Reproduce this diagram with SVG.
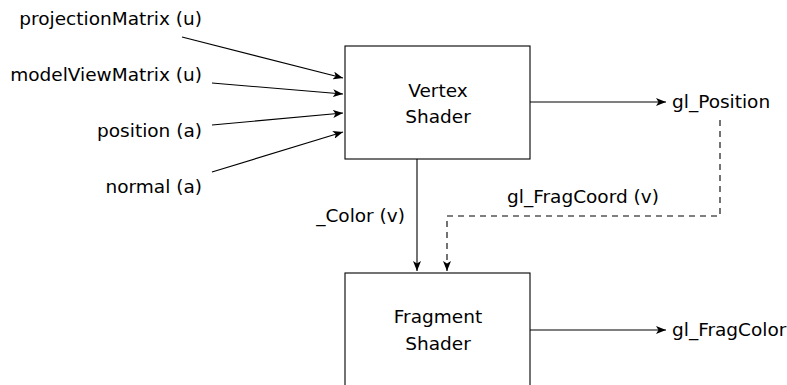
<svg xmlns="http://www.w3.org/2000/svg" width="787" height="385" viewBox="0 0 787 385">
<defs>
<marker id="ah" viewBox="0 0 10 8" refX="10" refY="4" markerWidth="10" markerHeight="8" markerUnits="userSpaceOnUse" orient="auto">
<path d="M0,0 L10,4 L0,8 L2.5,4 Z" fill="#000"/>
</marker>
</defs>
<style>
text{font-family:"DejaVu Sans","Liberation Sans",sans-serif;font-size:18.5px;fill:#000}
.box{fill:#fff;stroke:#000;stroke-width:1.1}
.c{fill:none;stroke:#000;stroke-width:1.1}
.d{stroke-dasharray:6,5}
</style>
<rect width="787" height="385" fill="#fff"/>
<g id="connectors">
<line class="c" x1="182" y1="37" x2="343" y2="78" marker-end="url(#ah)"/>
<line class="c" x1="212" y1="83" x2="343" y2="94" marker-end="url(#ah)"/>
<line class="c" x1="212" y1="125" x2="343" y2="113" marker-end="url(#ah)"/>
<line class="c" x1="212" y1="172" x2="343" y2="132" marker-end="url(#ah)"/>
<line class="c" x1="530" y1="102" x2="666" y2="102" marker-end="url(#ah)"/>
<line class="c" x1="417" y1="159" x2="417" y2="271" marker-end="url(#ah)"/>
<polyline class="c d" points="720,120 720,216 447,216 447,271" marker-end="url(#ah)"/>
<line class="c" x1="530" y1="330" x2="666" y2="330" marker-end="url(#ah)"/>
<text x="405" y="222" text-anchor="end">_Color (v)</text>
<text x="583" y="203" text-anchor="middle">gl_FragCoord (v)</text>
</g>
<g id="in-projection"><text x="202" y="25" text-anchor="end">projectionMatrix (u)</text></g>
<g id="in-modelview"><text x="202" y="81" text-anchor="end">modelViewMatrix (u)</text></g>
<g id="in-position"><text x="202" y="137" text-anchor="end">position (a)</text></g>
<g id="in-normal"><text x="202" y="193" text-anchor="end">normal (a)</text></g>
<g id="vertex-shader">
<rect class="box" x="345" y="46" width="185" height="113"/>
<text x="438" y="97" text-anchor="middle">Vertex</text>
<text x="438" y="123" text-anchor="middle">Shader</text>
</g>
<g id="fragment-shader">
<rect class="box" x="345" y="273" width="185" height="130"/>
<text x="438" y="323" text-anchor="middle">Fragment</text>
<text x="438" y="350" text-anchor="middle">Shader</text>
</g>
<g id="out-position"><text x="672" y="108">gl_Position</text></g>
<g id="out-fragcolor"><text x="672" y="336">gl_FragColor</text></g>
</svg>
